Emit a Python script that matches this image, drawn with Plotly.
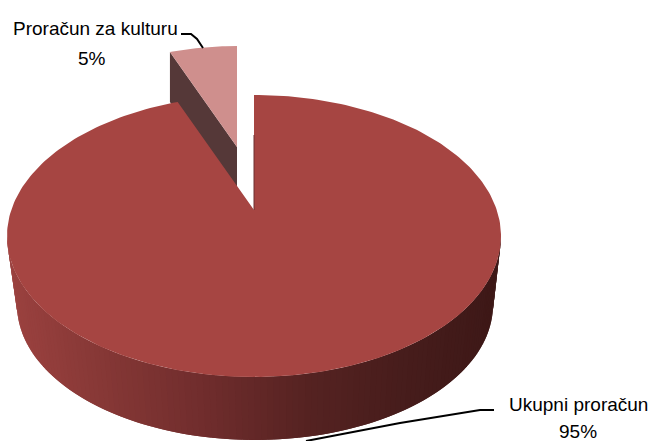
import numpy as np
import plotly.graph_objects as go

categories = ["Proračun za kulturu", "Ukupni proračun"]
values = [5, 95]
percent_labels = ["5%", "95%"]

W, H = 651, 441
small_frac = values[0] / sum(values)
gap = 2 * np.pi * small_frac

# projected disc geometry (pixels)
APEX = (254, 210)
TOP = dict(cx=254, cy=236, rx=247, ry=141)
BOT = dict(cx=255, cy=305, rx=238, ry=135)
S_CX, S_CY, S_RX, S_RY = 237, 168, 217, 122
S_APEX = (237, 147)
S_DEPTH = 50

def ell(e, t):
    return e["cx"] + e["rx"] * np.sin(t), e["cy"] - e["ry"] * np.cos(t)

fig = go.Figure()

def poly(x, y, color, lw=0):
    fig.add_trace(go.Scatter(
        x=list(x), y=list(y), mode="lines", fill="toself", fillcolor=color,
        line=dict(color=color, width=lw), hoverinfo="skip", showlegend=False))

# exploded slice
t_s = np.linspace(-gap, 0, 24)
sx = S_CX + S_RX * np.sin(t_s)
sy = S_CY - S_RY * np.cos(t_s)
poly([sx[0], S_APEX[0], S_APEX[0], sx[0]],
     [sy[0], S_APEX[1], S_APEX[1] + S_DEPTH, sy[0] + S_DEPTH], "#553838")
poly([S_APEX[0], *sx, S_APEX[0]], [S_APEX[1], *sy, S_APEX[1]], "#CF8F8D")

# side wall of the large slice: strips overlap the previously drawn one
stop_x = [8, 100, 200, 300, 400, 500]
stop_rgb = np.array([[156, 66, 64], [134, 56, 54], [112, 45, 45],
                     [86, 35, 34], [71, 29, 28], [61, 24, 23]])
step = np.radians(1.5)
edges = np.radians(np.arange(90, 270.1, 1.5))
for a, b in zip(edges[:-1], edges[1:]):
    a0 = max(a - step, edges[0])
    xa, ya = ell(TOP, a0)
    xb, yb = ell(TOP, b)
    xc, yc = ell(BOT, b)
    xd, yd = ell(BOT, a0)
    mid = (ell(TOP, a)[0] + xb + ell(BOT, a)[0] + xc) / 4
    rgb = [int(np.interp(mid, stop_x, stop_rgb[:, i])) for i in range(3)]
    poly([xa, xb, xc, xd, xa], [ya, yb, yc, yd, ya], f"rgb({rgb[0]},{rgb[1]},{rgb[2]})")

# top of the large slice
t_m = np.linspace(0, 2 * np.pi - gap, 300)
mx, my = ell(TOP, t_m)
poly([APEX[0], *mx, APEX[0]], [APEX[1], *my, APEX[1]], "#A64542")

# thin dark edge along the cut
fig.add_trace(go.Scatter(x=[254, 254], y=[135, 210], mode="lines",
                         line=dict(color="#6d3030", width=1),
                         hoverinfo="skip", showlegend=False))

# leader lines
for lx, ly in [([181, 191, 197, 203], [34, 34, 39, 48]),
               ([494, 480, 400, 306], [410, 410, 423, 441])]:
    fig.add_trace(go.Scatter(x=lx, y=ly, mode="lines",
                             line=dict(color="#000000", width=2),
                             hoverinfo="skip", showlegend=False))

font = dict(family="Liberation Sans", size=19, color="#000000")
for txt, x, y in [(categories[0], 95, 28), (percent_labels[0], 92, 58),
                  (categories[1], 578, 404), (percent_labels[1], 578, 431)]:
    fig.add_annotation(x=x, y=y, text=txt, showarrow=False, font=font,
                       xanchor="center", yanchor="middle")

fig.update_layout(
    width=W, height=H, margin=dict(l=0, r=0, t=0, b=0),
    paper_bgcolor="#ffffff", plot_bgcolor="#ffffff", showlegend=False,
    xaxis=dict(range=[0, W], visible=False, fixedrange=True),
    yaxis=dict(range=[H, 0], visible=False, fixedrange=True),
)
fig.write_html("out.html", config=dict(displayModeBar=False),
               post_script="document.body.style.margin='0';document.body.style.overflow='hidden';")
